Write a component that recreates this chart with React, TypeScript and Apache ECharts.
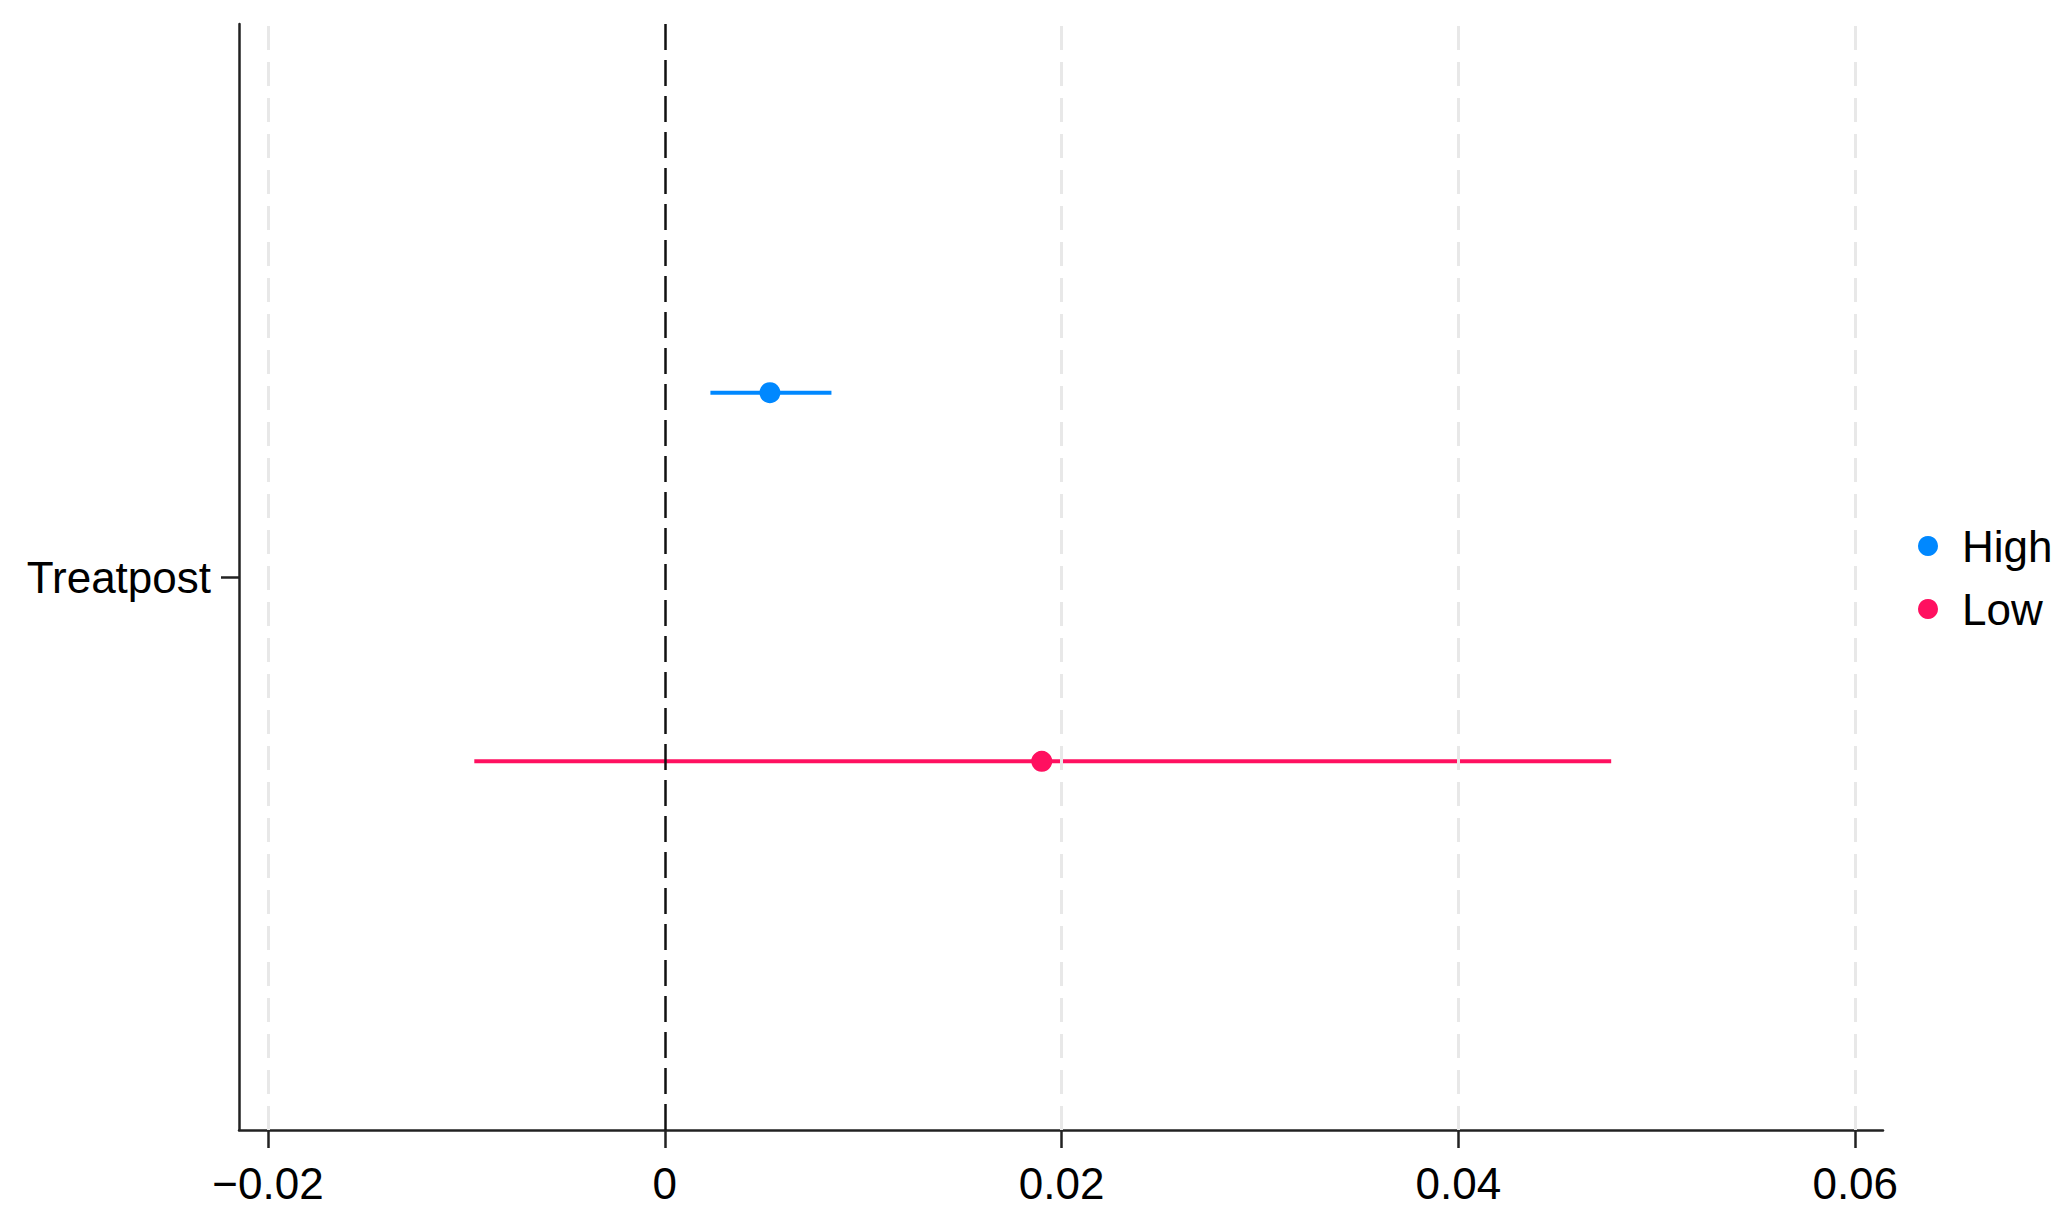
import React, { useEffect, useRef } from "react";
import * as echarts from "echarts";

const categories = ["Treatpost"];
const groups = ["High", "Low"];
const estimates = [0.0053, 0.019];
const lower = [0.0023, -0.0096];
const upper = [0.0084, 0.0477];
const yPositions = [4, 2];
const colors = ["#0088FF", "#FF1060"];
const xTicks = [-0.02, 0, 0.02, 0.04, 0.06];
const xMin = -0.02146;
const xMax = 0.0614;

const FONT = "'Liberation Sans', Arial, sans-serif";

export default function App() {
  const ref = useRef<HTMLDivElement>(null);

  useEffect(() => {
    if (!ref.current) return;
    const chart = echarts.init(ref.current, null, { renderer: "svg" });

    const series: any[] = [];
    series.push({
      name: "__ref",
      type: "line",
      data: [],
      z: 1,
      silent: true,
      markLine: {
        silent: true,
        symbol: "none",
        label: { show: false },
        animation: false,
        data: [
          ...xTicks
            .filter((v) => v !== 0)
            .map((v) => ({
              xAxis: v,
              lineStyle: { color: "#e8e8e8", width: 3, type: [24, 12] },
            })),
          { xAxis: 0, lineStyle: { color: "#111", width: 2.5, type: [26, 10] } },
        ],
      },
    });
    groups.forEach((g, i) => {
      series.push({
        name: g,
        type: "scatter",
        data: [[estimates[i], yPositions[i]]],
        symbol: "circle",
        symbolSize: 21,
        itemStyle: { color: colors[i], opacity: 1 },
        z: 4,
      });
      series.push({
        name: g,
        type: "line",
        data: [
          [lower[i], yPositions[i]],
          [upper[i], yPositions[i]],
        ],
        showSymbol: false,
        symbol: "none",
        lineStyle: { color: colors[i], width: 4 },
        z: 3,
      });
    });

    chart.setOption({
      animation: false,
      backgroundColor: "#ffffff",
      textStyle: { fontFamily: FONT },
      grid: { left: 239, right: 185, top: 24, bottom: 91, containLabel: false },
      legend: {
        data: groups.map((g) => ({ name: g, icon: "circle" })),
        orient: "vertical",
        left: 1918,
        top: 524,
        padding: 0,
        itemWidth: 20,
        itemHeight: 20,
        itemGap: 19,
        textStyle: {
          fontFamily: FONT,
          fontSize: 44,
          color: "#000",
          padding: [0, 0, 0, 19],
        },
      },
      xAxis: {
        type: "value",
        min: xMin,
        max: xMax,
        axisLine: { show: true, onZero: false, lineStyle: { color: "#222", width: 2.5 } },
        axisTick: {
          show: true,
          customValues: xTicks,
          length: 18,
          lineStyle: { color: "#222", width: 2.5 },
        },
        axisLabel: {
          customValues: xTicks,
          margin: 31,
          fontFamily: FONT,
          fontSize: 44,
          color: "#000",
          formatter: (v: number) => {
            const s = String(Math.round(v * 100) / 100);
            return s.replace("-", "\u2212");
          },
        },
        splitLine: { show: false },
      },
      yAxis: {
        type: "value",
        min: 0,
        max: 6,
        axisLine: { show: true, onZero: false, lineStyle: { color: "#222", width: 2.5 } },
        axisTick: {
          show: true,
          customValues: [3],
          length: 18,
          lineStyle: { color: "#222", width: 2.5 },
        },
        axisLabel: {
          customValues: [3],
          margin: 28,
          fontFamily: FONT,
          fontSize: 44,
          color: "#000",
          formatter: () => categories[0],
        },
        splitLine: { show: false },
      },
      series,
    });

    return () => chart.dispose();
  }, []);

  return (
    <div
      ref={ref}
      style={{ position: "fixed", left: 0, top: 0, width: 2068, height: 1221, background: "#fff" }}
    />
  );
}
